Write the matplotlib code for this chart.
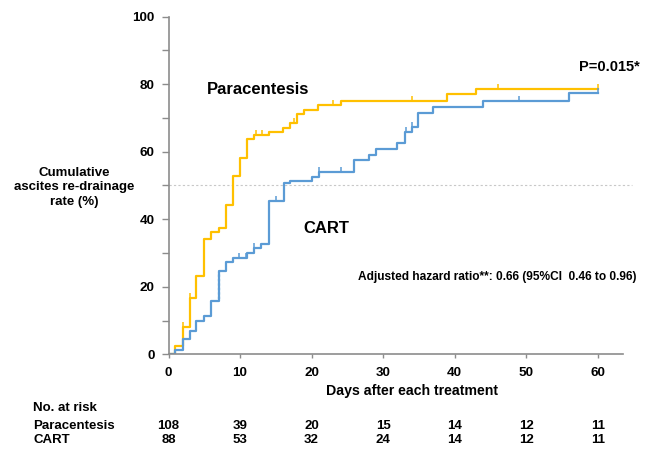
import matplotlib
matplotlib.use("Agg")
import matplotlib.pyplot as plt
from matplotlib.path import Path
from matplotlib.transforms import blended_transform_factory

plt.rcParams['font.family'] = ['Liberation Sans', 'DejaVu Sans']
plt.rcParams['font.weight'] = 'bold'

# step curves (days, cumulative %)
para_days = [0, 0.9, 2.0, 3.0, 3.9, 5.0, 6.0, 7.1, 8.0, 9.0, 10.0, 11.0, 12.0, 14.0,
             16.0, 17.0, 17.9, 19.0, 20.9, 24.1, 39.0, 43.0, 60.0]
para_rate = [0, 2.5, 8.0, 16.8, 23.3, 34.1, 36.3, 37.3, 44.2, 52.9, 58.2, 63.8, 65.0, 65.9,
             67.0, 68.6, 71.0, 72.3, 73.8, 75.1, 77.0, 78.4, 78.4]
cart_days = [0, 0.9, 2.0, 3.0, 3.9, 5.0, 6.0, 7.0, 8.0, 9.0, 11.0, 12.0, 13.0, 14.0,
             16.1, 17.0, 20.0, 21.0, 26.0, 28.0, 29.0, 32.0, 33.0, 34.0, 34.9, 37.0,
             44.0, 56.0, 60.0]
cart_rate = [0, 1.3, 4.4, 7.0, 9.9, 11.4, 15.9, 24.8, 27.4, 28.6, 29.9, 31.4, 32.7, 45.4,
             50.6, 51.3, 52.6, 54.1, 57.5, 59.0, 60.7, 62.5, 65.7, 67.4, 71.5, 73.3,
             75.0, 77.3, 77.3]

# censored times
para_cens = [2.0, 3.0, 12.3, 13.1, 17.5, 23.0, 34.0, 46.0, 60.0]
cart_cens = [9.9, 10.9, 12.0, 15.0, 21.0, 24.1, 33.2, 34.0, 49.0, 60.0]

# number at risk
risk_days = [0, 10, 20, 30, 40, 50, 60]
risk_para = [108, 39, 20, 15, 14, 12, 11]
risk_cart = [88, 53, 32, 24, 14, 12, 11]

yellow = '#FFC000'
blue = '#5B9BD5'
grey = '#8c8c8c'


def value_at(days, rate, t):
    v = rate[0]
    for d, r in zip(days, rate):
        if d <= t:
            v = r
    return v


fig = plt.figure(figsize=(6.48, 4.5), dpi=100)
ax = fig.add_axes([168.5 / 648, 1 - 354.3 / 450, (622.7 - 168.5) / 648, (354.3 - 16.5) / 450])

ax.axhline(50, xmin=0, xmax=1.02, color='#c8c8c8', lw=0.8, ls=(0, (2, 2)), clip_on=False)

ax.step(para_days, para_rate, where='post', color=yellow, lw=1.6)
ax.step(cart_days, cart_rate, where='post', color=blue, lw=1.6)

tick = Path([(0, 0), (0, 1)])
ax.plot(para_cens, [value_at(para_days, para_rate, t) for t in para_cens], ls='none',
        marker=tick, markersize=7, markeredgecolor=yellow, markeredgewidth=1.1)
ax.plot(cart_cens, [value_at(cart_days, cart_rate, t) for t in cart_cens], ls='none',
        marker=tick, markersize=7, markeredgecolor=blue, markeredgewidth=1.1)
# many censored cases at day 7 (dotted rise)
ax.vlines(7.0, 16.5, 24.5, color=blue, lw=1.6, ls=(0, (1, 1)))

ax.set_xlim(0, 63.5)
ax.set_ylim(0, 100)
ax.set_xticks(risk_days)
ax.set_yticks([0, 20, 40, 60, 80, 100])
ax.set_yticks([10, 30, 50, 70, 90], minor=True)
for side in ['top', 'right']:
    ax.spines[side].set_visible(False)
for side in ['left', 'bottom']:
    ax.spines[side].set_color(grey)
    ax.spines[side].set_linewidth(1.2)
ax.tick_params(axis='both', which='both', color=grey, width=1, labelsize=9.7)
ax.tick_params(axis='y', which='both', length=5, pad=5)
ax.tick_params(axis='x', length=3, pad=6)

ax.text(5.4, 78.5, 'Paracentesis', fontsize=12, fontweight='bold', va='center')
ax.text(18.9, 37.1, 'CART', fontsize=12, fontweight='bold', va='center')
ax.text(65.9, 85.0, 'P=0.015*', fontsize=10.5, fontweight='bold', ha='right', va='center',
        clip_on=False)
ax.text(26.5, 23.0, 'Adjusted hazard ratio**: 0.66 (95%CI  0.46 to 0.96)', fontsize=8.6,
        fontweight='bold', va='center', clip_on=False)

fig.text(74 / 648, 1 - 187.3 / 450, 'Cumulative\nascites re-drainage\nrate (%)', fontsize=9.5,
         fontweight='bold', ha='center', va='center', linespacing=1.25)
fig.text(411.7 / 648, 1 - 390.7 / 450, 'Days after each treatment', fontsize=10.2,
         fontweight='bold', ha='center', va='center')

fig.text(33 / 648, 1 - 407.7 / 450, 'No. at risk', fontsize=9.5, fontweight='bold', va='center')
fig.text(33 / 648, 1 - 425.7 / 450, 'Paracentesis', fontsize=9.5, fontweight='bold', va='center')
fig.text(33 / 648, 1 - 440 / 450, 'CART', fontsize=9.5, fontweight='bold', va='center')

trans = blended_transform_factory(ax.transData, fig.transFigure)
for d, n1, n2 in zip(risk_days, risk_para, risk_cart):
    ax.text(d, 1 - 425.7 / 450, str(n1), transform=trans, fontsize=9.5, fontweight='bold',
            ha='center', va='center')
    ax.text(d, 1 - 440 / 450, str(n2), transform=trans, fontsize=9.5, fontweight='bold',
            ha='center', va='center')

fig.savefig('out.png', dpi=100)
